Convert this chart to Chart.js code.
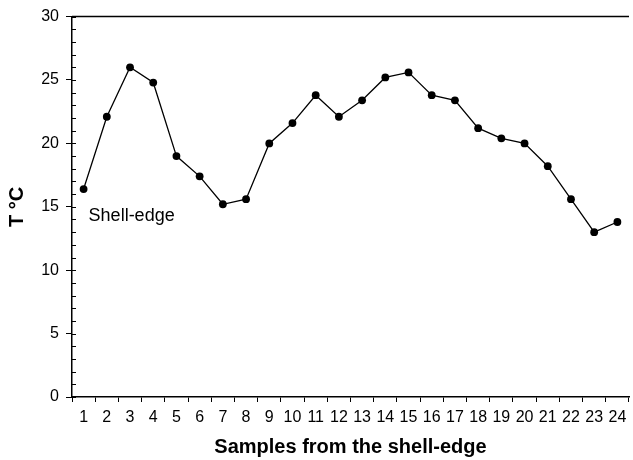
<!DOCTYPE html>
<html>
<head>
<meta charset="utf-8">
<script src="https://cdn.jsdelivr.net/npm/chart.js@4/dist/chart.umd.min.js"></script>
<style>
  html, body { margin: 0; padding: 0; background: #fff; }
</style>
</head>
<body>
<canvas id="myChart" width="633" height="460"></canvas>
<script>
const samples = ['1','2','3','4','5','6','7','8','9','10','11','12','13','14','15','16','17','18','19','20','21','22','23','24'];
const temps = [16.4, 22.1, 26.0, 24.8, 19.0, 17.4, 15.2, 15.6, 20.0, 21.6, 23.8, 22.1,
               23.4, 25.2, 25.6, 23.8, 23.4, 21.2, 20.4, 20.0, 18.2, 15.6, 13.0, 13.8];
const yRange = [0, 30];
const yMajorStep = 5;
const note = { text: 'Shell-edge', value: 14.3 };

const FONT = '"Liberation Sans", Arial, sans-serif';

// top border, inward minor ticks, and the "Shell-edge" note
const framePlugin = {
  id: 'frame',
  afterDraw(chart) {
    const ctx = chart.ctx;
    const area = chart.chartArea;
    const y = chart.scales.y;
    const x = chart.scales.x;
    ctx.save();
    ctx.strokeStyle = '#000';
    ctx.lineWidth = 1.5;
    ctx.beginPath();
    ctx.moveTo(area.left, area.top);
    ctx.lineTo(area.right, area.top);
    ctx.stroke();

    ctx.lineWidth = 1;
    y.ticks.forEach(t => {
      const py = Math.round(y.getPixelForValue(t.value)) + 0.5;
      ctx.beginPath();
      ctx.moveTo(area.left, py);
      ctx.lineTo(area.left + 4, py);
      ctx.stroke();
    });

    ctx.fillStyle = '#000';
    ctx.font = '18px ' + FONT;
    ctx.textBaseline = 'middle';
    ctx.fillText(note.text, x.getPixelForValue(0) + 5, y.getPixelForValue(note.value));
    ctx.restore();
  }
};

const ctx = document.getElementById('myChart').getContext('2d');
const chart = new Chart(ctx, {
  type: 'line',
  data: {
    labels: samples,
    datasets: [{
      data: temps,
      borderColor: '#000',
      borderWidth: 1.3,
      backgroundColor: '#000',
      pointRadius: 3.9,
      pointBorderWidth: 0,
      pointBackgroundColor: '#000',
      tension: 0,
      fill: false
    }]
  },
  options: {
    responsive: false,
    animation: false,
    layout: { padding: { top: 10, right: 0, left: 0, bottom: 0 } },
    plugins: { legend: { display: false }, tooltip: { enabled: false } },
    scales: {
      x: {
        type: 'category',
        offset: true,
        grid: { offset: true, drawOnChartArea: false, tickLength: 5, color: '#000', lineWidth: 1 },
        border: { display: true, color: '#000', width: 1.5 },
        ticks: { color: '#000', font: { family: FONT, size: 16 }, maxRotation: 0, autoSkip: false, padding: 6 },
        title: { display: true, text: 'Samples from the shell-edge', color: '#000',
                 font: { family: FONT, size: 20, weight: 'bold' }, padding: { top: 0, bottom: 1 } },
        afterFit(scale) { scale.height = 63; }
      },
      y: {
        min: yRange[0],
        max: yRange[1],
        grid: {
          drawOnChartArea: false,
          tickLength: 6,
          tickColor: c => (c.tick && c.tick.value % yMajorStep === 0) ? '#000' : 'rgba(0,0,0,0)',
          tickWidth: 1
        },
        border: { display: true, color: '#000', width: 1.5 },
        ticks: {
          stepSize: 1,
          autoSkip: false,
          color: '#000',
          padding: 7,
          font: { family: FONT, size: 16 },
          callback: v => (v % yMajorStep === 0 ? v : '')
        },
        title: { display: true, text: 'T °C', color: '#000',
                 font: { family: FONT, size: 20, weight: 'bold' }, padding: { top: 5, bottom: 0 } },
        afterFit(scale) { scale.width = 72; }
      }
    }
  },
  plugins: [framePlugin]
});
</script>
</body>
</html>
